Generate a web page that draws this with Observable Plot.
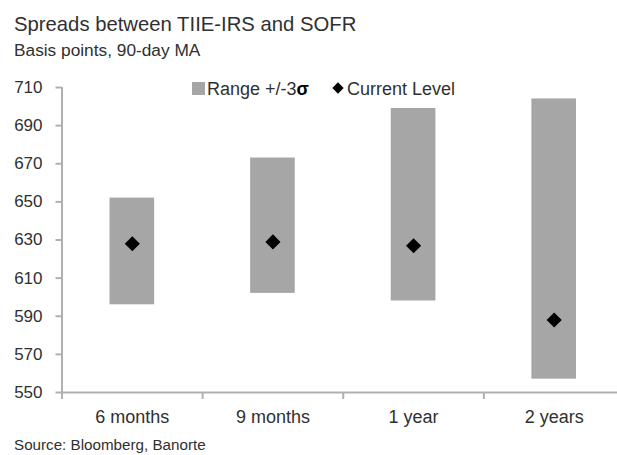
<!DOCTYPE html>
<html><head><meta charset="utf-8">
<script src="https://cdn.jsdelivr.net/npm/d3@7"></script>
<script src="https://cdn.jsdelivr.net/npm/@observablehq/plot@0.6"></script>
<style>
body{margin:0;background:#fff;font-family:"Liberation Sans",Arial,sans-serif;color:#303030;}
#wrap{position:relative;width:617px;height:455px;overflow:hidden;background:#fff;}
.t{position:absolute;white-space:nowrap;}
#chart{position:absolute;left:0;top:60px;}
</style></head><body><div id="wrap">
<div class="t" style="left:14px;top:13.8px;font-size:20.3px;line-height:20.3px;">Spreads between TIIE-IRS and SOFR</div>
<div class="t" style="left:14px;top:42.4px;font-size:17.3px;line-height:17.3px;">Basis points, 90-day MA</div>
<div id="chart"></div>
<div class="t" style="left:192px;top:82px;width:13px;height:13px;background:#a6a6a6;"></div>
<div class="t" style="left:207px;top:80px;font-size:18px;line-height:18px;">Range +/-3<b style="color:#000">σ</b></div>
<div class="t" style="left:333.5px;top:84px;width:8px;height:8px;background:#000;transform:rotate(45deg);"></div>
<div class="t" style="left:347px;top:80px;font-size:18px;line-height:18px;">Current Level</div>
<div class="t" style="left:14px;top:437px;font-size:15.2px;line-height:15.2px;">Source: Bloomberg, Banorte</div>
</div>
<script>
const categories = ["6 months", "9 months", "1 year", "2 years"];
const rangeLow  = [596, 602, 598, 557];
const rangeHigh = [652, 673, 699, 704];
const currentLevel = [628, 629, 627, 588];
const yTicks = [550, 570, 590, 610, 630, 650, 670, 690, 710];

const rows = categories.map((c, i) => ({cat: c, i, lo: rangeLow[i], hi: rangeHigh[i], cur: currentLevel[i]}));
const boundaries = d3.range(categories.length + 1);
const centers = categories.map((c, i) => i + 0.5);

const chart = Plot.plot({
  width: 617,
  height: 375,
  marginLeft: 61.5,
  marginRight: -7,
  marginTop: 27,
  marginBottom: 43,
  style: {fontFamily: '"Liberation Sans", Arial, sans-serif', color: "#303030", background: "transparent"},
  x: {domain: [0, categories.length], axis: null},
  y: {domain: [550, 710], axis: null},
  marks: [
    Plot.rectY(rows, {x1: d => d.i, x2: d => d.i + 1, y1: "lo", y2: "hi", fill: "#a6a6a6", insetLeft: 48, insetRight: 48}),
    Plot.dot(rows, {x: d => d.i + 0.5, y: "cur", symbol: "diamond2", r: 6.8, fill: "#000", stroke: "none"}),
    Plot.ruleX([0], {stroke: "#b0b0b0", strokeWidth: 2}),
    Plot.ruleY([550], {stroke: "#b0b0b0", strokeWidth: 2}),
    Plot.axisY({ticks: yTicks, tickSize: 6, tickPadding: 13.5, stroke: "#b0b0b0", strokeWidth: 2, fill: "#303030", fontSize: 17, tickFormat: d => String(d)}),
    Plot.axisX({ticks: boundaries, tickSize: 7, stroke: "#b0b0b0", strokeWidth: 2, tickFormat: () => ""}),
    Plot.axisX({ticks: centers, tickSize: 0, tickPadding: 18, fill: "#303030", fontSize: 18, tickFormat: d => categories[Math.floor(d)]})
  ]
});
document.getElementById("chart").appendChild(chart);
</script>
</body></html>
